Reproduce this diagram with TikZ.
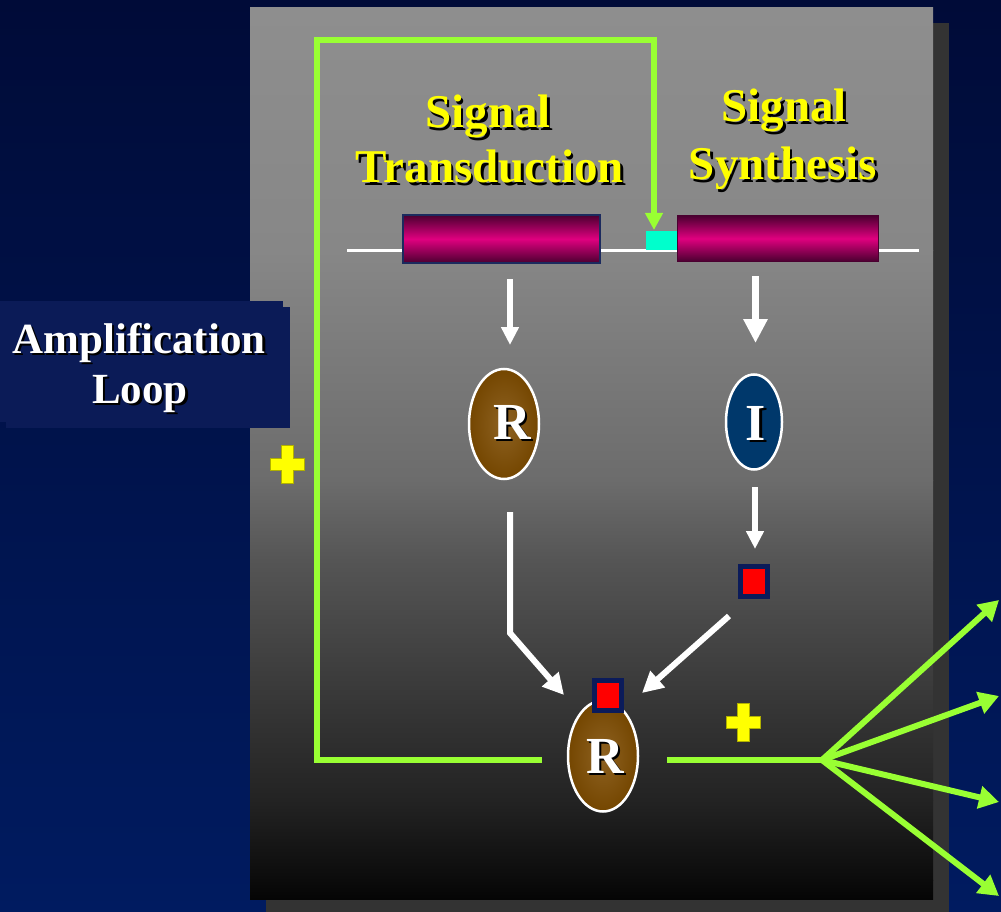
\documentclass[tikz,border=0pt]{standalone}
\usepackage{fontspec}
\setmainfont{Liberation Serif}
\usetikzlibrary{arrows.meta,shapes.geometric}
\definecolor{bgtop}{HTML}{000B38}
\definecolor{bgmid}{HTML}{001552}
\definecolor{bgbot}{HTML}{001B60}
\definecolor{ampbox}{HTML}{0B1B57}
\definecolor{shadowgray}{HTML}{333333}
\definecolor{ga}{HTML}{8E8E8E}
\definecolor{gb}{HTML}{878787}
\definecolor{gc}{HTML}{6C6C6C}
\definecolor{gd}{HTML}{555555}
\definecolor{ge}{HTML}{333333}
\definecolor{gf}{HTML}{232323}
\definecolor{gg}{HTML}{0B0B0B}
\definecolor{gh}{HTML}{050505}
\definecolor{loopgreen}{HTML}{99FF33}
\definecolor{plusyellow}{HTML}{FFFF00}
\definecolor{plusedge}{HTML}{B0B000}
\definecolor{genedark}{HTML}{4A0030}
\definecolor{genemid}{HTML}{E0007F}
\definecolor{genenavy}{HTML}{1B2A5E}
\definecolor{cyanbox}{HTML}{00FFCC}
\definecolor{rin}{HTML}{8E6222}
\definecolor{rout}{HTML}{744600}
\definecolor{icol}{HTML}{00386B}
\definecolor{sqnavy}{HTML}{0B1B5A}
\definecolor{sqred}{HTML}{FF0000}
\newcommand\shadowtext[4]{%
  \node[#3,text=black,anchor=base,xshift=2.5pt,yshift=-2.5pt] at (#2) {#4};
  \node[#3,anchor=base] (#1) at (#2) {#4};}
\tikzset{
  ttl/.style={font=\fontsize{47}{47}\selectfont\bfseries, text=plusyellow, inner sep=0pt},
  amp/.style={font=\fontsize{43}{43}\selectfont\bfseries, text=white, inner sep=0pt},
  letter/.style={font=\fontsize{52}{52}\selectfont\bfseries, text=white, inner sep=0pt},
  ellR/.style={ellipse, draw=white, line width=2.5pt, inner sep=0pt,
    minimum width=70pt, minimum height=110pt, inner color=rin, outer color=rout},
  ellI/.style={ellipse, draw=white, line width=2.5pt, inner sep=0pt,
    minimum width=56pt, minimum height=95pt, fill=icol},
  redsq/.style={rectangle, fill=sqred, draw=sqnavy, line width=5pt, inner sep=0pt,
    minimum width=27pt, minimum height=30pt},
  gene/.style={rectangle, inner sep=0pt, top color=genedark, bottom color=genedark,
    middle color=genemid},
  greenline/.style={draw=loopgreen, line width=5.5pt},
  greenarrow/.style={draw=loopgreen, line width=6pt, line join=round,
    -{Triangle[width=22pt,length=20pt]}},
  whitearrow/.style={draw=white, line width=6pt, -{Triangle[width=17pt,length=18pt]}},
  diagarrow/.style={draw=white, line width=6pt, -{Triangle[width=21pt,length=21pt]}},
  plussign/.pic={\fill[plusyellow, draw=plusedge, line width=0.6pt]
    (-6,-19) -- (6,-19) -- (6,-6) -- (17,-6) -- (17,6) -- (6,6) -- (6,19)
    -- (-6,19) -- (-6,6) -- (-17,6) -- (-17,-6) -- (-6,-6) -- cycle;}
}
\begin{document}
\begin{tikzpicture}[x=1pt,y=-1pt]
\useasboundingbox (0,0) rectangle (1001,912);
% background
\shade[top color=bgtop, middle color=bgmid, bottom color=bgbot] (0,0) rectangle (1001,912);
% panel shadow
\fill[shadowgray] (266,23) rectangle (949,912);
% panel gradient
\shade[top color=ga, bottom color=gb] (250,8) rectangle (933,250.5);
\shade[top color=gb, bottom color=gc] (250,250) rectangle (933,480.5);
\shade[top color=gc, bottom color=gd] (250,480) rectangle (933,560.5);
\shade[top color=gd, bottom color=ge] (250,560) rectangle (933,720.5);
\shade[top color=ge, bottom color=gf] (250,720) rectangle (933,800.5);
\shade[top color=gf, bottom color=gg] (250,800) rectangle (933,880.5);
\shade[top color=gg, bottom color=gh] (250,880) rectangle (933,899);
% amplification box
\fill[ampbox] (6,307) rectangle (290,428);
\fill[ampbox] (0,301) rectangle (283,422);
\shadowtext{ampA}{139,353}{amp}{Amplification}
\shadowtext{ampB}{140,403}{amp}{Loop}
% titles
\shadowtext{stA}{488,128}{ttl}{Signal}
\shadowtext{stB}{490,183}{ttl}{Transduction}
\shadowtext{ssA}{784,122}{ttl}{Signal}
\shadowtext{ssB}{783,180}{ttl}{Synthesis}
% DNA line and genes
\coordinate (dnaL) at (347,250);
\coordinate (dnaR) at (919,250);
\draw[white, line width=3pt] (dnaL) -- (dnaR);
\node[gene, draw=genenavy, line width=2.5pt, minimum width=197pt, minimum height=48pt] (gene1) at (501.5,239) {};
\node[gene, draw=genedark, line width=0.8pt, minimum width=201pt, minimum height=46pt] (gene2) at (778,238.5) {};
\node[rectangle, fill=cyanbox, inner sep=0pt, minimum width=31pt, minimum height=19pt] (prom) at (661.5,240.5) {};
% ellipses
\node[ellR] (r1) at (504,424) {};
\shadowtext{r1t}{512,439}{letter}{R}
\node[ellI] (i1) at (754,422) {};
\shadowtext{i1t}{756,440}{letter}{I}
\node[ellR, minimum height=111pt] (r2) at (603,756) {};
\shadowtext{r2t}{605,773}{letter}{R}
% red squares
\node[redsq] (sq1) at (754,581.5) {};
\node[redsq] (sq2) at (608,695.5) {};
% white arrows
\coordinate (a1s) at (510,279);
\coordinate (a1e) at (510,345);
\draw[whitearrow] (a1s) -- (a1e);
\coordinate (a2s) at (755.5,276);
\coordinate (a2e) at (755.5,343);
\draw[draw=white, line width=7pt, -{Triangle[width=23pt,length=24pt]}] (a2s) -- (a2e);
\coordinate (a3s) at (755,487);
\coordinate (a3e) at (755,549);
\draw[whitearrow] (a3s) -- (a3e);
\coordinate (a4s) at (510,512);
\coordinate (a4b) at (510,633);
\coordinate (a4e) at (564,695);
\draw[diagarrow, line join=miter] (a4s) -- (a4b) -- (a4e);
\coordinate (a5s) at (729,616);
\coordinate (a5e) at (642,693);
\draw[diagarrow] (a5s) -- (a5e);
% green amplification loop
\coordinate (g0) at (542,760);
\coordinate (g1) at (317,760);
\coordinate (g2) at (317,40);
\coordinate (g3) at (654,40);
\coordinate (g4) at (654,230);
\draw[greenline, line join=miter, -{Triangle[width=17pt,length=17pt]}] (g0) -- (g1) -- (g2) -- (g3) -- (g4);
% output fan
\coordinate (o0) at (667,760);
\coordinate (fan) at (822,760);
\draw[greenline] (o0) -- (fan);
\coordinate (t1) at (999,600);
\coordinate (t2) at (999,696);
\coordinate (t3) at (999,802);
\coordinate (t4) at (999,896);
\foreach \t in {t1,t2,t3,t4} \draw[greenarrow] (fan) -- (\t);
% plus signs
\pic at (287,464) {plussign};
\pic at (743,722) {plussign};
\end{tikzpicture}
\end{document}
